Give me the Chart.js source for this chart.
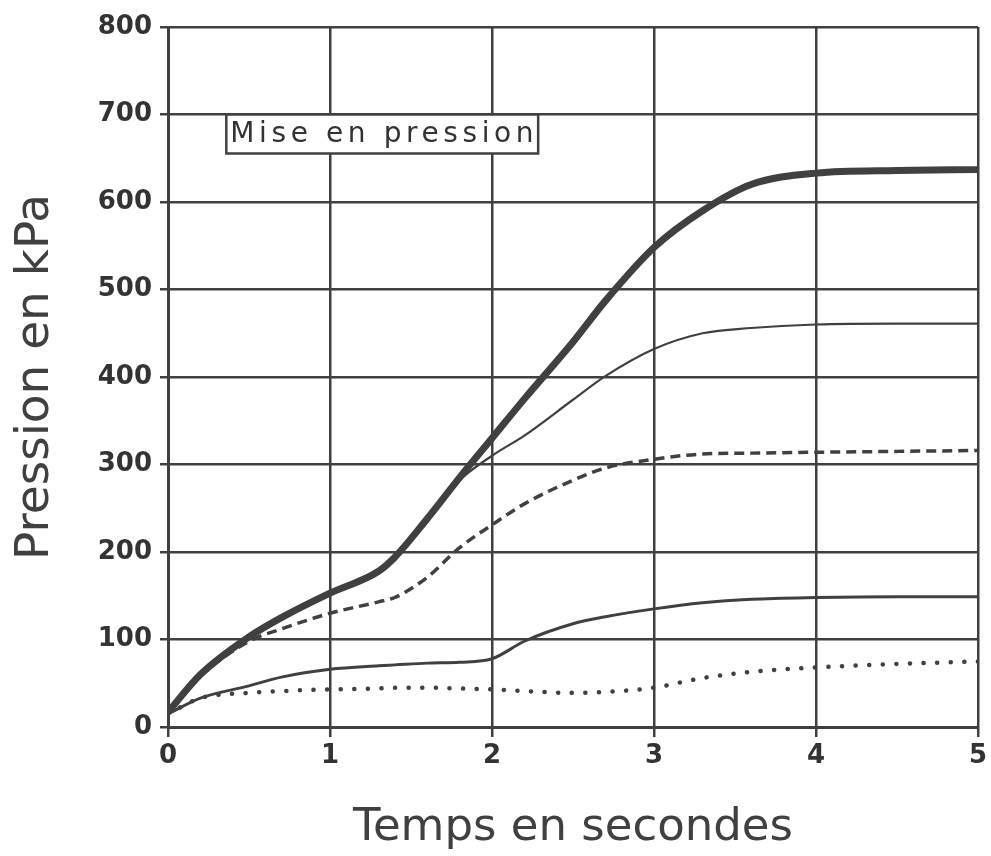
<!DOCTYPE html>
<html>
<head>
<meta charset="utf-8">
<script src="https://cdn.jsdelivr.net/npm/chart.js@4/dist/chart.umd.min.js"></script>
<style>
    html, body { margin: 0; padding: 0; background: #fff; }
    canvas { display: block; }
</style>
</head>
<body>
<canvas id="pressureChart" width="991" height="856"></canvas>
<script>
// time samples (s)
const timeSec = [0, 0.2, 0.5, 0.7, 1, 1.3, 1.4, 1.6, 1.8, 2, 2.2, 2.5, 2.7, 3, 3.3, 3.6, 4, 4.5, 5];

// pressure curves (kPa)
const thickCurve  = [17, 60, 103, 125, 153, 178, 194, 238, 285, 330, 375, 440, 487, 548, 590, 620, 633, 636, 637];
const thinCurve   = [17, 60, 103, 125, 153, 178, 194, 238, 282, 310, 333, 374, 401, 432, 450, 456, 460, 461, 461];
const dashedCurve = [17, 58, 98, 112, 130, 143, 148, 171, 205, 231, 255, 282, 296, 306, 312, 313, 314, 315, 316];
const lowerCurve  = [15, 33, 47, 57, 66, 70, 71, 73, 74, 78, 98, 118, 126, 135, 142, 146, 148, 149, 149];
const dottedCurve = [15, 33, 39, 41, 43, 44, 45, 45, 44, 43, 41, 39, 40, 45, 56, 63, 68, 72, 75];

const xTicks = [0, 1, 2, 3, 4, 5];
const yTicks = [0, 100, 200, 300, 400, 500, 600, 700, 800];

const ink = '#404040';

function toPoints(values) {
    return timeSec.map((t, i) => ({ x: t, y: values[i] }));
}

// "Mise en pression" box, anchored in data units
const boxLabel = { text: 'Mise en pression', x: 0.36, y: 700 };

const labelBoxPlugin = {
    id: 'labelBox',
    afterDatasetsDraw(chart) {
        const { ctx, scales } = chart;
        const left = scales.x.getPixelForValue(boxLabel.x);
        const top = scales.y.getPixelForValue(boxLabel.y);
        ctx.save();
        ctx.font = '500 28px "DejaVu Sans"';
        ctx.letterSpacing = '4.6px';
        const w = ctx.measureText(boxLabel.text).width + 4;
        const h = 39;
        ctx.fillStyle = '#fff';
        ctx.fillRect(left, top, w, h);
        ctx.strokeStyle = ink;
        ctx.lineWidth = 2.5;
        ctx.strokeRect(left, top, w, h);
        ctx.fillStyle = '#333';
        ctx.textBaseline = 'middle';
        ctx.fillText(boxLabel.text, left + 4, top + h / 2 + 1);
        ctx.restore();
    }
};

const lineBase = {
    pointRadius: 0,
    fill: false,
    borderColor: ink,
    cubicInterpolationMode: 'monotone'
};

new Chart(document.getElementById('pressureChart').getContext('2d'), {
    type: 'line',
    data: {
        datasets: [
            { ...lineBase, data: toPoints(dottedCurve), borderWidth: 4.5, borderDash: [0.1, 13.5], borderCapStyle: 'round' },
            { ...lineBase, data: toPoints(lowerCurve), borderWidth: 3 },
            { ...lineBase, data: toPoints(dashedCurve), borderWidth: 3.5, borderDash: [10, 6] },
            { ...lineBase, data: toPoints(thinCurve), borderWidth: 2.2 },
            { ...lineBase, data: toPoints(thickCurve), borderWidth: 7 }
        ]
    },
    options: {
        responsive: false,
        animation: false,
        layout: { padding: { left: 0, top: 27, right: 13, bottom: 0 } },
        plugins: { legend: { display: false }, tooltip: { enabled: false } },
        scales: {
            x: {
                type: 'linear',
                min: 0,
                max: 5,
                afterBuildTicks(scale) { scale.ticks = xTicks.map((v) => ({ value: v })); },
                afterFit(scale) { scale.height = 129; },
                grid: { color: ink, lineWidth: 2.5, tickLength: 10, drawTicks: true },
                border: { color: ink, width: 3 },
                ticks: { color: '#333', padding: 4, maxRotation: 0, font: { family: 'DejaVu Sans', weight: 'bold', size: 26 } },
                title: {
                    display: true,
                    text: 'Temps en secondes',
                    color: ink,
                    padding: { top: 0, bottom: 1 },
                    font: { family: 'DejaVu Sans', size: 45 }
                }
            },
            y: {
                type: 'linear',
                min: 0,
                max: 800,
                afterBuildTicks(scale) { scale.ticks = yTicks.map((v) => ({ value: v })); },
                afterFit(scale) { scale.width = 168; },
                grid: { color: ink, lineWidth: 2.5, tickLength: 8, drawTicks: true },
                border: { color: ink, width: 3 },
                ticks: { color: '#333', padding: 8, font: { family: 'DejaVu Sans', weight: 'bold', size: 26 } },
                title: {
                    display: true,
                    text: 'Pression en kPa',
                    color: ink,
                    padding: { top: 8, bottom: 0 },
                    font: { family: 'DejaVu Sans', size: 47 }
                }
            }
        }
    },
    plugins: [labelBoxPlugin]
});
</script>
</body>
</html>
